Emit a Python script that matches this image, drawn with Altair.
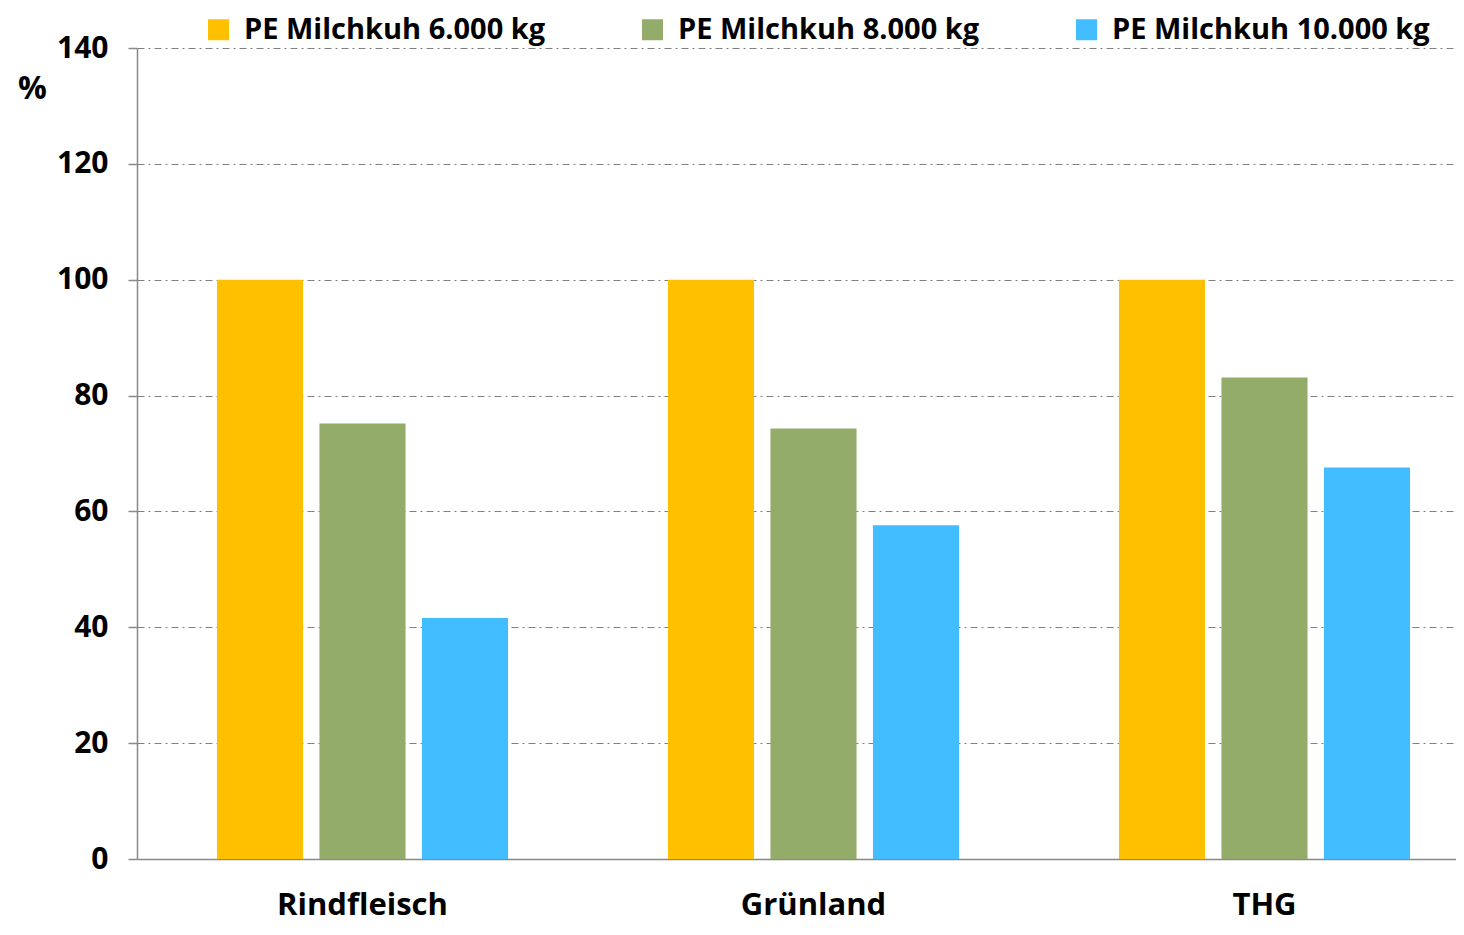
import altair as alt
import pandas as pd

categories = ["Rindfleisch", "Grünland", "THG"]
series = ["PE Milchkuh 6.000 kg", "PE Milchkuh 8.000 kg", "PE Milchkuh 10.000 kg"]
values_6000 = [100, 100, 100]
values_8000 = [75.2, 74.3, 83.1]
values_10000 = [41.6, 57.6, 67.6]
colors = ["#FFC000", "#93AC6A", "#42BDFF"]
y_ticks = [0, 20, 40, 60, 80, 100, 120, 140]

rows = []
for s, vals in zip(series, [values_6000, values_8000, values_10000]):
    for c, v in zip(categories, vals):
        rows.append({"Kategorie": c, "Serie": s, "Wert": v})
df = pd.DataFrame(rows)

FONT = "Open Sans"
GRAY = "#898989"

chart = alt.Chart(df).mark_bar().encode(
    x=alt.X(
        "Kategorie:N",
        sort=categories,
        scale=alt.Scale(range=[0, 1353], paddingInner=0, paddingOuter=0),
        axis=alt.Axis(
            title=None, labelAngle=0, ticks=False, domainColor=GRAY, domainWidth=1.5,
            labelFont=FONT, labelFontSize=31, labelFontWeight="bold", labelColor="black",
            labelPadding=55, labelBaseline="alphabetic",
        ),
    ),
    xOffset=alt.XOffset("Serie:N", sort=series,
                        scale=alt.Scale(paddingInner=0.16, paddingOuter=0.78)),
    y=alt.Y(
        "Wert:Q",
        scale=alt.Scale(domain=[0, 140], nice=False),
        axis=alt.Axis(
            values=y_ticks, grid=True, gridDash=[7, 4, 2, 4], gridColor="#808080", gridWidth=1,
            tickSize=9, tickColor=GRAY, tickWidth=1.5, domainColor=GRAY, domainWidth=1.5,
            labelFont=FONT, labelFontSize=30, labelFontWeight="bold", labelColor="black",
            labelPadding=20,
            title="%", titleAngle=0, titleX=-105, titleY=40, titleAlign="center",
            titleBaseline="middle", titleFont=FONT, titleFontSize=32, titleFontWeight="bold",
            titleColor="black",
        ),
    ),
    color=alt.Color(
        "Serie:N",
        sort=series,
        scale=alt.Scale(domain=series, range=colors),
        legend=alt.Legend(
            orient="none", legendX=67, legendY=-33, direction="horizontal", title=None,
            symbolType="square", symbolSize=441, symbolStrokeWidth=0, symbolOpacity=1,
            labelFont=FONT, labelFontSize=29, labelFontWeight="bold", labelColor="black",
            labelOffset=11, columnPadding=76, gridAlign="all", labelLimit=600,
        ),
    ),
).properties(
    width=1319,
    height=811,
    autosize="none",
    padding={"left": 129, "top": 40, "right": 0, "bottom": 68},
).configure_view(stroke=None)

chart.save("out.html", embed_options={"renderer": "svg", "actions": False})
